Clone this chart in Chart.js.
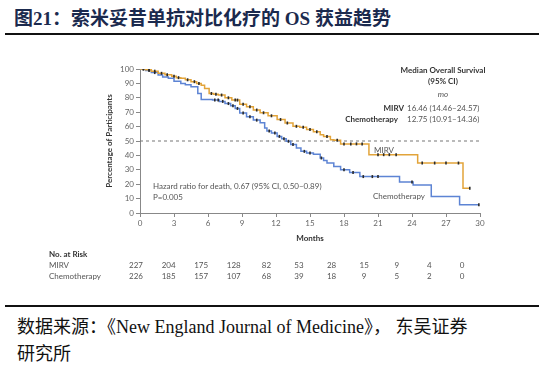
<!DOCTYPE html>
<html>
<head>
<meta charset="utf-8">
<script src="https://cdn.jsdelivr.net/npm/chart.js@4"></script>
<style>
  body { margin: 0; background: #fff; }
  #page { position: relative; width: 544px; height: 369px; overflow: hidden; background: #fff; }
  .t { position: absolute; white-space: nowrap; line-height: 1; transform: translateY(-50%); }
  .c { transform: translate(-50%, -50%); }
  .r { transform: translate(-100%, -50%); }
  .chartTxt { font-family: Lato, "Open Sans", sans-serif; font-size: 8px; color: #555; }
  .b { font-weight: bold; color: #333; }
  .hr { position: absolute; left: 5px; width: 534px; height: 2px; background: #111; }
  #title { left: 14px; top: 17px; font-family: "Liberation Serif", "Noto Sans CJK SC", serif; font-weight: bold; font-size: 19px; color: #1b2a4e; }
  #title .cjk { font-family: "Noto Sans CJK SC", sans-serif; }
  .src { font-family: "Liberation Serif", "Noto Sans CJK SC", serif; font-size: 18px; color: #111; left: 17px; }
  .src .cjk { font-family: "Noto Sans CJK SC", sans-serif; }
  #box { position: absolute; left: 0; top: 40px; width: 544px; height: 210px; }
</style>
</head>
<body>
<div id="page">
  <div id="title" class="t"><span class="cjk">图</span>21<span class="cjk">：索米妥昔单抗对比化疗的</span> OS <span class="cjk">获益趋势</span></div>
  <div class="hr" style="top:33px"></div>

  <div id="box"><canvas id="grafico"></canvas></div>

  <!-- legenda da mediana -->
  <div class="t c chartTxt b" style="left:443px;top:70px">Median Overall Survival</div>
  <div class="t c chartTxt b" style="left:443px;top:81px">(95% CI)</div>
  <div class="t c chartTxt" style="left:443px;top:94px;font-style:italic">mo</div>
  <div class="t r chartTxt b" style="left:404px;top:108px">MIRV</div>
  <div class="t chartTxt" style="left:407px;top:108px">16.46 (14.46–24.57)</div>
  <div class="t r chartTxt b" style="left:398px;top:119px">Chemotherapy</div>
  <div class="t chartTxt" style="left:407px;top:119px">12.75 (10.91–14.36)</div>

  <!-- rótulos das curvas -->
  <div class="t chartTxt" style="left:374px;top:150px">MIRV</div>
  <div class="t chartTxt" style="left:373px;top:196px">Chemotherapy</div>

  <!-- hazard ratio -->
  <div class="t chartTxt" style="left:153px;top:186px">Hazard ratio for death, 0.67 (95% CI, 0.50–0.89)</div>
  <div class="t chartTxt" style="left:153px;top:197px">P=0.005</div>

  <!-- tabela de risco -->
  <div class="t chartTxt b" style="left:49px;top:254px">No. at Risk</div>
  <div class="t chartTxt" style="left:49px;top:265px">MIRV</div>
  <div class="t chartTxt" style="left:49px;top:276px">Chemotherapy</div>
  <div id="riskRows"></div>

  <div class="hr" style="top:305px"></div>
  <div class="t src" style="top:326px"><span class="cjk">数据来源：《</span>New England Journal of Medicine<span class="cjk">》，</span> <span class="cjk">东吴证券</span></div>
  <div class="t src" style="top:353px"><span class="cjk">研究所</span></div>
</div>

<script>
// Curvas de Kaplan-Meier (meses, % sobrevida após o evento)
const mirvTimes = [0, 0.5, 1.0, 1.6, 2.2, 2.8, 3.2, 3.6, 4.0, 4.5, 5.0, 5.4, 5.7, 6.1, 6.5, 6.9, 7.5, 8.1, 8.8, 9.4, 10.0, 10.6, 11.3, 12.1, 12.8, 13.5, 14.1, 14.7, 15.3, 15.9, 16.2, 16.8, 17.1, 17.7, 20.2, 24.5, 28.5, 29.1];
const mirvSurv  = [100, 99.5, 98.5, 97, 96, 95, 94, 93.5, 92.5, 91.2, 90, 88.8, 86.5, 83, 82.5, 81.9, 80, 78.4, 75.5, 73.8, 71.5, 69.6, 67.5, 64.9, 62.5, 60.2, 59.5, 57.9, 56.5, 54.4, 53.2, 50.9, 50.5, 48, 40.5, 34.7, 17.2, 17.2];

const chemoTimes = [0, 0.5, 1.0, 1.6, 2.0, 2.5, 3.0, 3.6, 4.0, 4.5, 5.1, 5.4, 6.4, 7.0, 7.5, 8.0, 8.4, 8.8, 9.4, 10.0, 10.6, 11.0, 11.2, 11.6, 12.1, 12.5, 12.9, 13.3, 13.8, 14.2, 14.7, 15.3, 15.9, 16.2, 16.5, 17.1, 17.7, 18.5, 19.4, 22.9, 24.1, 25.7, 28.2, 29.9];
const chemoSurv  = [100, 99, 97.5, 95.8, 94.5, 93.5, 91.5, 90, 89, 87.7, 83, 78.8, 78.5, 77.5, 76, 74.5, 72.6, 69.5, 66.8, 64.5, 62.6, 59, 57, 55.5, 53.2, 51.5, 49.8, 47.5, 45.1, 42.8, 41.7, 40.8, 38.2, 36.5, 34.7, 32.3, 30, 28.1, 25.3, 21.5, 19.5, 11.5, 5.8, 5.8];

// Marcas de censura (meses)
const mirvCensor = [0.3, 0.8, 1.3, 1.9, 2.4, 3.0, 3.4, 4.2, 4.8, 5.2, 6.3, 6.7, 7.2, 7.8, 8.4, 8.6, 9.1, 9.7, 10.3, 10.9, 11.6, 12.4, 13.0, 13.8, 14.4, 15.0, 15.6, 16.5, 17.4, 18.0, 18.6, 19.1, 19.6, 21.0, 21.5, 22.0, 22.6, 24.9, 26.0, 27.0, 28.1, 29.1];
const chemoCensor = [0.3, 0.8, 1.3, 6.6, 6.9, 7.3, 7.8, 8.2, 8.6, 9.1, 9.7, 10.3, 11.4, 11.9, 12.3, 12.7, 13.1, 13.5, 14.5, 15.0, 16.0, 18.0, 18.8, 19.7, 20.5, 21.0, 24.0, 29.9];

// Tabela de número em risco
const riskMonths = [0, 3, 6, 9, 12, 15, 18, 21, 24, 27, 30];
const riskMirv  = [227, 204, 175, 128, 82, 53, 28, 15, 9, 4, 0];
const riskChemo = [226, 185, 157, 107, 68, 39, 18, 9, 5, 2, 0];

const xTicks = [0, 3, 6, 9, 12, 15, 18, 21, 24, 27, 30];
const medianLine = 50;

// valor da curva no tempo t (degrau)
function survAt(times, surv, t) {
    let v = surv[0];
    for (let i = 0; i < times.length; i++) {
        if (times[i] <= t) v = surv[i];
    }
    return v;
}

function toPoints(times, surv) {
    return times.map((t, i) => ({ x: t, y: surv[i] }));
}

function censorPoints(times, surv, cens) {
    return cens.map(t => ({ x: t, y: survAt(times, surv, t) }));
}

// tabela de risco em texto (posições da figura são um pouco mais estreitas que o eixo)
const riskRows = document.getElementById('riskRows');
riskMonths.forEach((m, i) => {
    const cx = 136 + i * 32.6;
    [[riskMirv[i], 265], [riskChemo[i], 276]].forEach(([val, y]) => {
        const d = document.createElement('div');
        d.className = 't c chartTxt';
        d.style.left = cx + 'px';
        d.style.top = y + 'px';
        d.textContent = val;
        riskRows.appendChild(d);
    });
});

const tickFont = { family: 'Lato, "Open Sans", sans-serif', size: 8 };
const censorStyle = {
    type: 'line',
    showLine: false,
    pointStyle: 'line',
    rotation: 90,
    pointRadius: 1.5,
    pointBorderColor: '#2a2a2a',
    pointBorderWidth: 1.6,
    order: 0
};

const ctx = document.getElementById('grafico');
const kmChart = new Chart(ctx, {
    type: 'line',
    data: {
        datasets: [
            Object.assign({ label: 'MIRV censor', data: censorPoints(mirvTimes, mirvSurv, mirvCensor) }, censorStyle),
            Object.assign({ label: 'Chemo censor', data: censorPoints(chemoTimes, chemoSurv, chemoCensor) }, censorStyle),
            {
                label: 'MIRV',
                data: toPoints(mirvTimes, mirvSurv),
                stepped: true,
                borderColor: '#e2a43a',
                borderWidth: 1.5,
                pointRadius: 0,
                order: 1
            },
            {
                label: 'Chemotherapy',
                data: toPoints(chemoTimes, chemoSurv),
                stepped: true,
                borderColor: '#5d84d4',
                borderWidth: 1.5,
                pointRadius: 0,
                order: 2
            },
            {
                label: 'Median',
                data: [{ x: xTicks[0], y: medianLine }, { x: xTicks[xTicks.length - 1], y: medianLine }],
                borderColor: '#777',
                borderWidth: 1,
                borderDash: [3, 3],
                pointRadius: 0,
                order: 3
            }
        ]
    },
    options: {
        responsive: true,
        maintainAspectRatio: false,
        animation: false,
        layout: { padding: { top: 29, right: 64, bottom: 0, left: 0 } },
        plugins: {
            legend: { display: false },
            tooltip: { enabled: false }
        },
        scales: {
            x: {
                type: 'linear',
                min: 0,
                max: 30,
                afterFit: s => { s.height = 37; },
                afterBuildTicks: s => { s.ticks = xTicks.map(v => ({ value: v })); },
                ticks: { font: tickFont, color: '#666', padding: 2, maxRotation: 0 },
                grid: { drawOnChartArea: false, tickLength: 4, color: '#888' },
                border: { color: '#888', width: 1 },
                title: { display: true, text: 'Months', color: '#333', font: { family: tickFont.family, size: 8, weight: 'bold' }, padding: { top: 0, bottom: 7 } }
            },
            y: {
                min: 0,
                max: 100,
                afterFit: s => { s.width = 140; },
                ticks: { stepSize: 10, font: tickFont, color: '#666', padding: 2 },
                grid: { drawOnChartArea: false, tickLength: 4, color: '#888' },
                border: { color: '#888', width: 1 },
                title: { display: true, text: 'Percentage of Participants', color: '#333', font: { family: tickFont.family, size: 8, weight: 'bold' }, padding: { top: 105, bottom: 0 } }
            }
        }
    }
});
</script>
</body>
</html>
